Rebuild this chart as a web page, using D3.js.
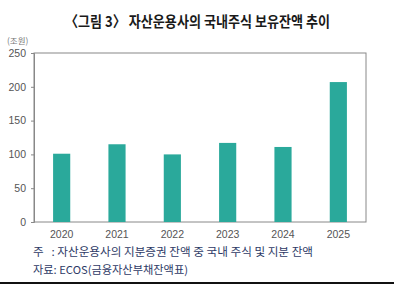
<!DOCTYPE html>
<html><head><meta charset="utf-8">
<script src="https://cdn.jsdelivr.net/npm/d3@7/dist/d3.min.js"></script>
<style>
body{margin:0;background:#fff;}
svg{display:block;font-family:"Noto Sans CJK KR","Noto Sans",sans-serif;}
</style></head>
<body><svg id="c" width="394" height="284"></svg>
<script>
const years = ["2020","2021","2022","2023","2024","2025"];
const values = [101, 115, 100, 117, 111, 207];
const yTicks = [0, 50, 100, 150, 200, 250];
const titleText = "〈그림 3〉 자산운용사의 국내주식 보유잔액 추이";
const unitText = "(조원)";
const noteText = "주   : 자산운용사의 지분증권 잔액 중 국내 주식 및 지분 잔액";
const sourceText = "자료: ECOS(금융자산부채잔액표)";

const svg = d3.select("#c");
const L = 34, R = 366, T = 53, B = 222;
const x = d3.scaleBand().domain(years).range([L, R]).paddingInner(0.69).paddingOuter(0.345);
const y = d3.scaleLinear().domain([0, 250]).range([B, T]);

svg.append("text").attr("x", 65).attr("y", 27)
  .attr("font-size", 15).attr("font-weight", "bold").attr("fill", "#1a1a1a")
  .attr("textLength", 265).attr("lengthAdjust", "spacingAndGlyphs").text(titleText);

svg.append("text").attr("x", 7).attr("y", 44).attr("font-size", 8.5).attr("fill", "#777").text(unitText);

// frame
svg.append("rect").attr("x", L).attr("y", T).attr("width", R - L).attr("height", B - T)
  .attr("fill", "none").attr("stroke", "#888").attr("stroke-width", 1);

// y axis
const ya = svg.append("g").attr("transform", `translate(${L},0)`)
  .call(d3.axisLeft(y).tickValues(yTicks).tickSize(3).tickPadding(5));
ya.select(".domain").attr("stroke", "#888");
ya.selectAll("line").attr("stroke", "#888");
ya.selectAll("text").attr("font-size", 10.5).attr("fill", "#555").attr("font-family", "Liberation Sans, sans-serif");

svg.selectAll("rect.bar").data(values).join("rect").attr("class", "bar")
  .attr("x", (d, i) => x(years[i])).attr("width", x.bandwidth())
  .attr("y", d => y(d)).attr("height", d => B - y(d)).attr("fill", "#2aa99b");

const xa = svg.append("g").attr("transform", `translate(0,${B})`)
  .call(d3.axisBottom(x).tickSize(0).tickPadding(9));
xa.select(".domain").remove();
xa.selectAll("text").attr("font-size", 10.5).attr("fill", "#555").attr("font-family", "Liberation Sans, sans-serif");

svg.append("text").attr("x", 33).attr("y", 256).attr("font-size", 11).attr("fill", "#2e3a66")
  .attr("xml:space", "preserve").style("white-space", "pre")
  .attr("textLength", 280).attr("lengthAdjust", "spacingAndGlyphs").text(noteText);
svg.append("text").attr("x", 33).attr("y", 274).attr("font-size", 11).attr("fill", "#2e3a66")
  .attr("textLength", 155).attr("lengthAdjust", "spacingAndGlyphs").text(sourceText);

svg.append("line").attr("x1", 0).attr("x2", 394).attr("y1", 283).attr("y2", 283)
  .attr("stroke", "#111").attr("stroke-width", 2);
</script></body></html>
